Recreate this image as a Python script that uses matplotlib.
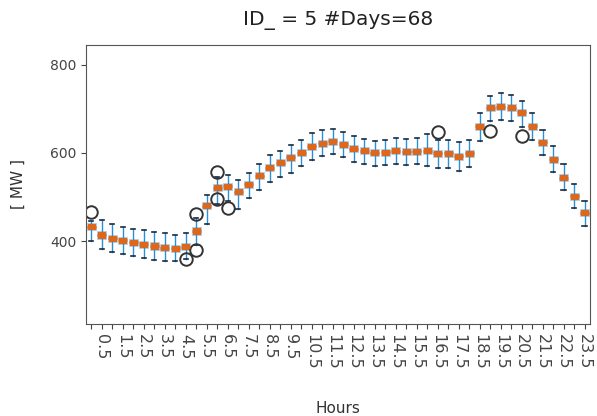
import matplotlib
matplotlib.use('Agg')
import matplotlib.pyplot as plt
import numpy as np

# half-hour slots and the daily load statistics
hours = [h / 2 for h in range(48)]
medians = [433, 414, 407, 402, 398, 393, 389, 385, 384, 387, 423, 480,
           521, 525, 512, 529, 548, 567, 578, 590, 601, 615, 622, 627,
           620, 610, 605, 600, 602, 605, 603, 604, 605, 599, 599, 592,
           599, 661, 703, 705, 703, 692, 661, 624, 586, 544, 502, 464]
box_low = [425, 406, 399, 394, 390, 385, 381, 377, 376, 379, 415, 472,
           513, 517, 504, 521, 540, 559, 570, 582, 593, 607, 614, 619,
           612, 602, 597, 592, 594, 597, 595, 596, 597, 591, 591, 584,
           591, 653, 695, 697, 695, 684, 653, 616, 578, 536, 494, 456]
box_high = [441, 422, 415, 410, 406, 401, 397, 393, 392, 395, 431, 488,
            529, 533, 520, 537, 556, 575, 586, 598, 609, 623, 630, 635,
            628, 618, 613, 608, 610, 613, 611, 612, 613, 607, 607, 600,
            607, 669, 711, 713, 711, 700, 669, 632, 594, 552, 510, 472]
whisker_low = [400, 383, 376, 370, 366, 362, 358, 355, 356, 360, 392, 440,
               485, 492, 474, 497, 515, 535, 545, 555, 570, 585, 592, 598,
               590, 580, 575, 570, 572, 575, 573, 574, 570, 566, 565, 560,
               568, 628, 672, 675, 672, 660, 630, 595, 556, 515, 475, 435]
whisker_high = [445, 448, 440, 432, 428, 425, 420, 418, 415, 418, 452, 505,
                545, 550, 538, 555, 575, 595, 605, 618, 630, 645, 652, 655,
                648, 638, 632, 628, 630, 633, 632, 633, 642, 630, 630, 625,
                630, 690, 730, 735, 732, 718, 690, 652, 615, 575, 530, 492]
outlier_hours = [0.0, 4.5, 5.0, 5.0, 6.0, 6.0, 6.5, 16.5, 19.0, 20.5]
outlier_values = [467, 360, 381, 462, 556, 495, 476, 648, 650, 639]

title = 'ID_ = 5 #Days=68'
orange = '#e0661a'
blue = '#2a8fd6'

plt.rcParams['font.family'] = 'DejaVu Sans'
fig = plt.figure(figsize=(5.97, 4.16), dpi=100)
ax = fig.add_axes([0.144, 0.221, 0.844, 0.671])

stats = []
for i, h in enumerate(hours):
    fl = [v for oh, v in zip(outlier_hours, outlier_values) if oh == h]
    stats.append({'med': medians[i], 'q1': box_low[i], 'q3': box_high[i],
                  'whislo': whisker_low[i], 'whishi': whisker_high[i], 'fliers': fl})

positions = np.arange(1, len(hours) + 1)
ax.bxp(stats, positions=positions, widths=0.85, capwidths=0.4, patch_artist=True,
       boxprops=dict(facecolor=orange, edgecolor='#a8d4f2', linewidth=0.6),
       medianprops=dict(color=orange, linewidth=2),
       whiskerprops=dict(color=blue, linewidth=1.0),
       capprops=dict(color='#1a2a40', linewidth=1.2),
       flierprops=dict(marker='o', markerfacecolor='none', markeredgecolor='#333333',
                       markersize=9, markeredgewidth=1.4))

ax.set_xlim(0.5, len(hours) + 0.5)
ax.set_ylim(212, 845)
ax.set_yticks([400, 600, 800])
ax.set_xticks(positions)
ax.set_xticklabels([str(h) if h % 1 else '' for h in hours], rotation=270)
ax.tick_params(axis='y', labelsize=10, colors='#444444')
ax.tick_params(axis='x', labelsize=11.5, colors='#444444', pad=4)
ax.set_xlabel('Hours', fontsize=11, color='#333333', labelpad=22)
ax.set_ylabel('[ MW ]', fontsize=11, color='#333333', labelpad=17)
ax.set_title(title, fontsize=14.5, color='#222222', pad=14)
for s in ax.spines.values():
    s.set_color('#555555')

fig.savefig('out.png', dpi=100)
